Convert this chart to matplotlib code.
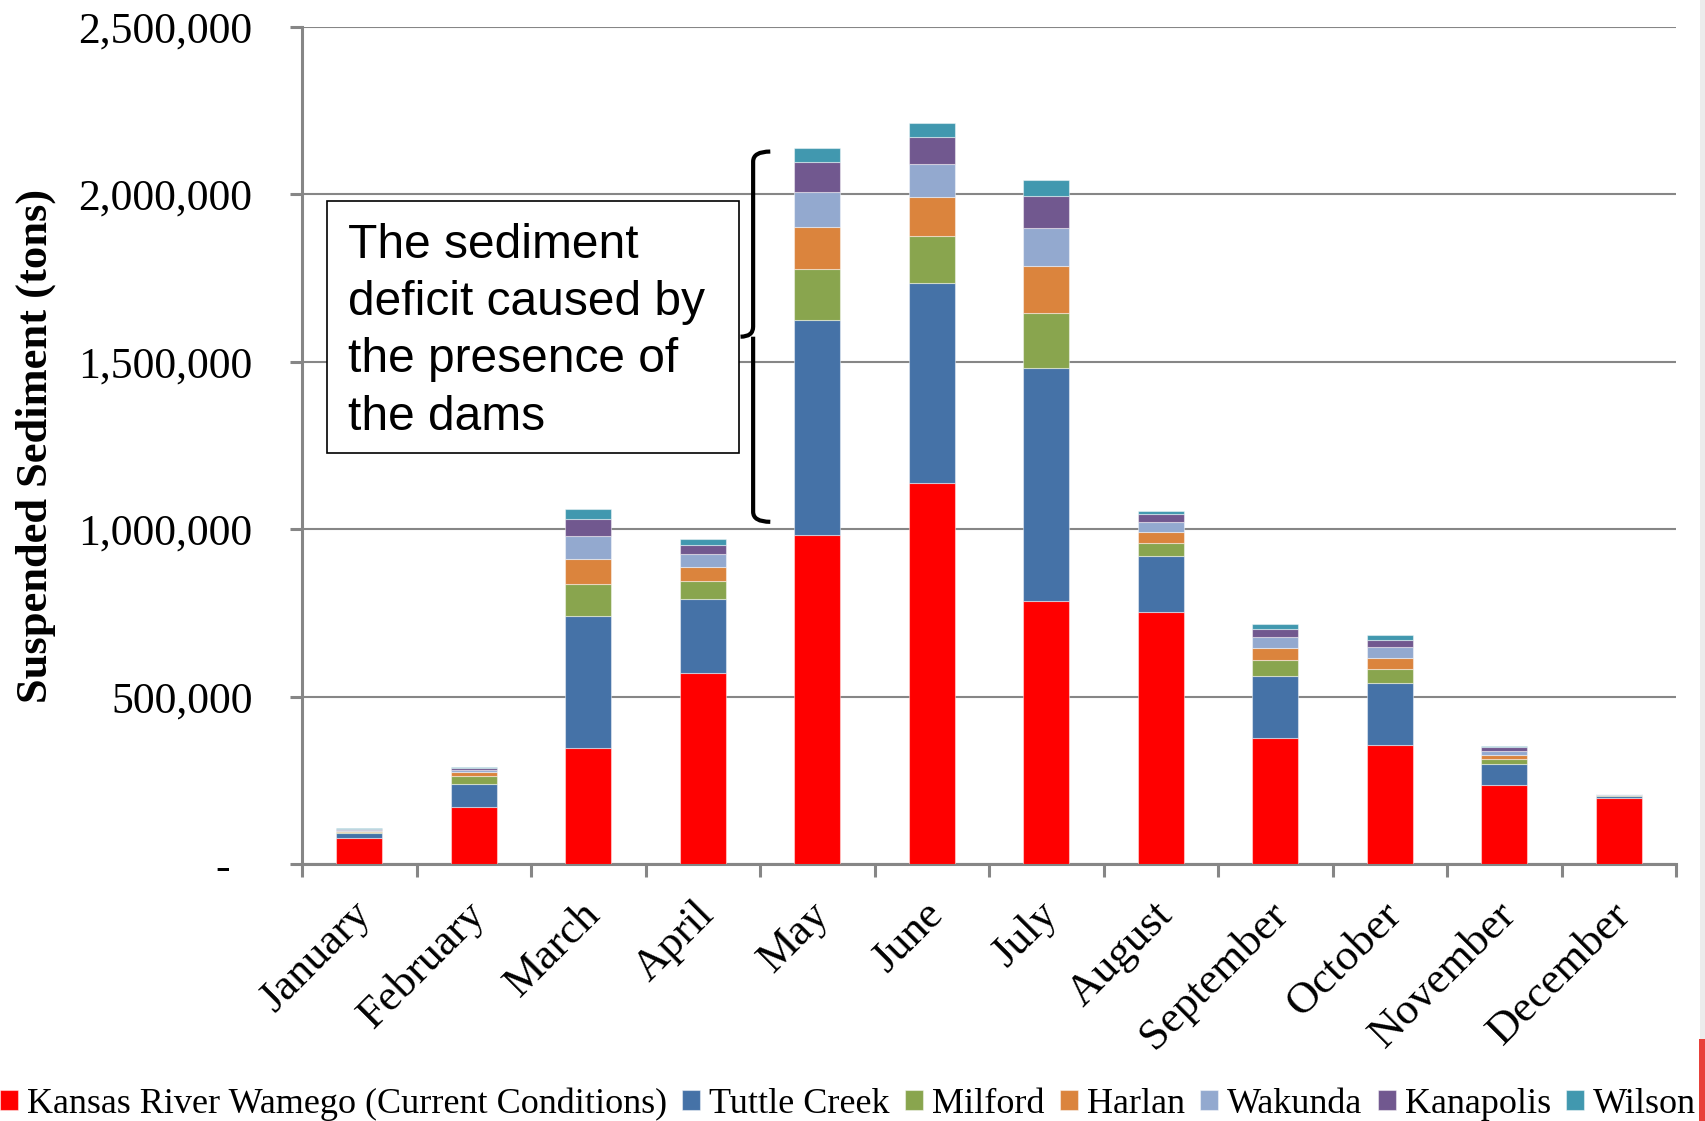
import matplotlib
matplotlib.use("Agg")
import matplotlib.pyplot as plt
import numpy as np
from matplotlib.patches import Rectangle, PathPatch
from matplotlib.path import Path
from matplotlib.ticker import FuncFormatter, FixedLocator
from matplotlib.transforms import ScaledTranslation

# Monthly suspended sediment (tons)
months = ["January", "February", "March", "April", "May", "June", "July",
          "August", "September", "October", "November", "December"]

kansas_wamego = [79000, 171000, 346000, 570000, 982000, 1139000, 786000,
                 753000, 375000, 356000, 235000, 198000]
tuttle_creek = [15000, 68000, 396000, 222000, 642000, 596000, 696000,
                167000, 187000, 184000, 65000, 6000]
milford = [3000, 23000, 93000, 52000, 152000, 141000, 165000,
           40000, 46000, 41000, 14000, 1500]
harlan = [3000, 12000, 77000, 43000, 127000, 116000, 138000,
          31000, 38000, 35000, 13000, 1500]
wakunda = [3000, 8000, 67000, 38000, 105000, 100000, 115000,
           31000, 33000, 31000, 11000, 1000]
kanapolis = [2500, 6000, 52000, 29000, 89000, 78000, 95000,
             22000, 24000, 23000, 11000, 1000]
wilson = [1500, 3000, 28000, 16000, 41000, 43000, 47000,
          11000, 14000, 13000, 3000, 500]

series_names = ["Kansas River Wamego (Current Conditions)", "Tuttle Creek",
                "Milford", "Harlan", "Wakunda", "Kanapolis", "Wilson"]
series_values = [kansas_wamego, tuttle_creek, milford, harlan, wakunda,
                 kanapolis, wilson]
series_colors = ["#FF0000", "#4572A7", "#89A54E", "#DB843D", "#93A9CF",
                 "#71588F", "#4198AF"]

y_ticks = [0, 500000, 1000000, 1500000, 2000000, 2500000]

serif = ["Liberation Serif", "DejaVu Serif"]
sans = ["Liberation Sans", "DejaVu Sans"]
grey = "#868686"

fig = plt.figure(figsize=(17.05, 11.21), dpi=100)
ax = fig.add_axes([302 / 1705, 1 - 864 / 1121, 1374 / 1705, 837 / 1121])

x = np.arange(len(months))
bottom = np.zeros(len(months))
handles = []
for name, vals, col in zip(series_names, series_values, series_colors):
    vals = np.asarray(vals, dtype=float)
    b = ax.bar(x, vals, width=0.4, bottom=bottom, color=col,
               edgecolor=(1, 1, 1, 0.45), linewidth=0.8, zorder=3, label=name)
    handles.append(b)
    bottom += vals

ax.set_xlim(-0.5, len(months) - 0.5)
ax.set_ylim(0, 2500000)

# Gridlines and axes styling
ax.yaxis.set_major_locator(FixedLocator(y_ticks))
ax.grid(axis="y", color=grey, linewidth=1.5, zorder=0)
ax.set_axisbelow(True)
for side in ("top", "right"):
    ax.spines[side].set_visible(False)
for side in ("left", "bottom"):
    ax.spines[side].set_color(grey)
    ax.spines[side].set_linewidth(2.2)


def fmt(v, pos):
    if v == 0:
        return "-  "
    return f"{int(v):,}"


ax.yaxis.set_major_formatter(FuncFormatter(fmt))
ax.tick_params(axis="y", which="major", length=8.6, width=2.2, color=grey,
               pad=27)
for lbl in ax.get_yticklabels():
    lbl.set_fontfamily(serif)
    lbl.set_fontsize(31.5)

ax.set_xticks(x)
ax.set_xticks(np.arange(-0.5, len(months)), minor=True)
ax.tick_params(axis="x", which="major", length=0, pad=32)
ax.tick_params(axis="x", which="minor", length=9, width=2.2, color=grey)
ax.set_xticklabels(months, rotation=45, ha="right", va="center",
                   rotation_mode="anchor", fontfamily=serif, fontsize=32)
offset = ScaledTranslation(4 / 72, 0, fig.dpi_scale_trans)
for lbl in ax.get_xticklabels():
    lbl.set_transform(lbl.get_transform() + offset)

ax.set_ylabel("Suspended Sediment (tons)", fontfamily=serif, fontsize=32,
              fontweight="bold")
ax.yaxis.set_label_coords((56 - 302) / 1374, 0.5)

# Annotation box
box = Rectangle((0.018, 0.4914), 0.300, 0.3011, transform=ax.transAxes,
                facecolor="white", edgecolor="black", linewidth=1.2, zorder=4)
ax.add_patch(box)
ax.text(0.0335, 0.766, "The sediment\ndeficit caused by\nthe presence of\nthe dams",
        transform=ax.transAxes, ha="left", va="top", fontfamily=sans,
        fontsize=34.5, linespacing=1.35, zorder=5)

# Bracket spanning the dam contributions in May
i_may = months.index("May")
lo = kansas_wamego[i_may] + 40000
hi = bottom[i_may] - 10000
mid = (lo + hi) / 2
xb = i_may - 0.56
hook = 0.15
tip = 0.11
r = 30000
verts = [
    (xb + hook, hi), (xb, hi), (xb, hi - r),
    (xb, mid + r), (xb, mid), (xb - tip, mid),
    (xb, mid), (xb, mid - r),
    (xb, lo + r), (xb, lo), (xb + hook, lo),
]
codes = [Path.MOVETO, Path.CURVE3, Path.CURVE3,
         Path.LINETO, Path.CURVE3, Path.CURVE3,
         Path.MOVETO, Path.LINETO,
         Path.LINETO, Path.CURVE3, Path.CURVE3]
ax.add_patch(PathPatch(Path(verts, codes), facecolor="none",
                       edgecolor="black", linewidth=3, zorder=5,
                       capstyle="butt", joinstyle="round"))

# Legend across the bottom
leg = fig.legend(handles=handles, labels=series_names, loc="center left",
                 bbox_to_anchor=(0.0, 1 - 1104 / 1121), ncol=7,
                 frameon=False, prop={"family": serif, "size": 26},
                 handlelength=0.5, handleheight=0.5, handletextpad=0.25,
                 columnspacing=0.42, borderpad=0, borderaxespad=0)

# Edge strip at the right border
fig.patches.append(Rectangle((1700 / 1705, 0), 5 / 1705, 1, transform=fig.transFigure,
                             facecolor="#ECECEC", edgecolor="none", zorder=0))
fig.patches.append(Rectangle((1699 / 1705, 0), 6 / 1705, 82 / 1121,
                             transform=fig.transFigure, facecolor="#E8413A",
                             edgecolor="none", zorder=1))

fig.savefig("out.png", dpi=100)
